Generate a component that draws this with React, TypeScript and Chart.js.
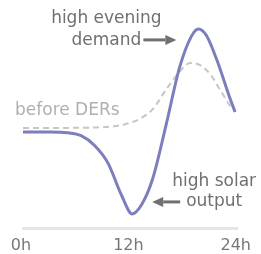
import React, { useEffect, useRef } from "react";
import { Chart, registerables } from "chart.js";

Chart.register(...registerables);

// Net load after DERs (solid purple)
const netLoadHours = [0, 3, 5, 6.5, 8, 9.5, 11, 12.2, 13.3, 14.5, 16, 17.5, 18.8, 19.6, 20.5, 21.7, 23, 23.7];
const netLoadValues = [43.6, 43.6, 43.3, 42, 37.5, 29.5, 15, 6.4, 10.9, 22.5, 47, 73, 87, 90.5, 87.5, 76, 60.5, 52.7];

// Load before DERs (dashed grey)
const beforeHours = [0, 4, 8, 10, 11.5, 13, 14.5, 16, 17.4, 18.7, 19.8, 21, 22, 23.2];
const beforeValues = [45.5, 45.5, 45.7, 46.2, 47.3, 49.5, 54, 63, 70.5, 75, 74, 69.5, 63, 55];

const xTickValues = [0, 12, 24];
const xTickLabels = ["0h", "12h", "24h"];

const peakLabel = ["high evening", "demand"];
const troughLabel = ["high solar", "output"];
const beforeLabel = "before DERs";

const FONT = "'DejaVu Sans', sans-serif";
const TEXT_COLOR = "#707070";

function drawArrow(ctx: CanvasRenderingContext2D, x0: number, x1: number, y: number) {
  const dir = Math.sign(x1 - x0);
  const headLen = 11;
  ctx.save();
  ctx.strokeStyle = TEXT_COLOR;
  ctx.fillStyle = TEXT_COLOR;
  ctx.lineWidth = 3;
  ctx.beginPath();
  ctx.moveTo(x0, y);
  ctx.lineTo(x1 - dir * headLen, y);
  ctx.stroke();
  ctx.beginPath();
  ctx.moveTo(x1, y);
  ctx.lineTo(x1 - dir * headLen, y - 5);
  ctx.lineTo(x1 - dir * headLen, y + 5);
  ctx.closePath();
  ctx.fill();
  ctx.restore();
}

const annotationPlugin = {
  id: "duckAnnotations",
  afterDatasetsDraw(chart: any) {
    const ctx: CanvasRenderingContext2D = chart.ctx;
    const xs = chart.scales.x;
    const ys = chart.scales.y;
    let pi = 0;
    let ti = 0;
    netLoadValues.forEach((v, i) => {
      if (v > netLoadValues[pi]) pi = i;
      if (v < netLoadValues[ti]) ti = i;
    });
    const px = xs.getPixelForValue(netLoadHours[pi]);
    const py = ys.getPixelForValue(netLoadValues[pi]);
    const tx = xs.getPixelForValue(netLoadHours[ti]);
    const ty = ys.getPixelForValue(netLoadValues[ti]);

    ctx.save();
    ctx.font = `17px ${FONT}`;
    ctx.fillStyle = TEXT_COLOR;
    ctx.textAlign = "center";
    ctx.textBaseline = "alphabetic";
    // peak annotation
    ctx.fillText(peakLabel[0], px - 92, py - 6);
    ctx.fillText(peakLabel[1], px - 92, py + 16);
    drawArrow(ctx, px - 55, px - 22, py + 11);
    // trough annotation
    ctx.fillText(troughLabel[0], tx + 82, ty - 28);
    ctx.fillText(troughLabel[1], tx + 82, ty - 8);
    drawArrow(ctx, tx + 48, tx + 20, ty - 12);
    // before DERs label
    const bx = xs.getPixelForValue(beforeHours[0]);
    const by = ys.getPixelForValue(beforeValues[0]);
    ctx.fillStyle = "#b0b0b0";
    ctx.textAlign = "left";
    ctx.fillText(beforeLabel, bx - 8, by - 13);
    ctx.restore();
  },
};

export default function App() {
  const canvasRef = useRef<HTMLCanvasElement | null>(null);

  useEffect(() => {
    if (!canvasRef.current) return;
    const chart = new Chart(canvasRef.current, {
      type: "line",
      data: {
        datasets: [
          {
            label: "after DERs",
            data: netLoadHours.map((h, i) => ({ x: h, y: netLoadValues[i] })),
            borderColor: "#7c7fbb",
            borderWidth: 3,
            pointRadius: 0,
            cubicInterpolationMode: "monotone",
            fill: false,
          },
          {
            label: "before DERs",
            data: beforeHours.map((h, i) => ({ x: h, y: beforeValues[i] })),
            borderColor: "#c6c6c6",
            borderWidth: 2,
            borderDash: [6, 4],
            pointRadius: 0,
            cubicInterpolationMode: "monotone",
            fill: false,
          },
        ],
      },
      options: {
        animation: false,
        responsive: false,
        events: [],
        layout: { padding: { left: 23, right: 21, top: 8, bottom: 0 } },
        plugins: {
          legend: { display: false },
          tooltip: { enabled: false },
        },
        scales: {
          x: {
            type: "linear",
            min: 0,
            max: 24,
            afterFit: (scale: any) => {
              scale.height = 26;
            },
            afterBuildTicks: (scale: any) => {
              scale.ticks = xTickValues.map((v) => ({ value: v }));
            },
            grid: { display: false, drawTicks: false },
            border: { display: true, color: "#e6e6e6", width: 3 },
            ticks: {
              padding: 8,
              labelOffset: -2,
              color: "#777777",
              font: { family: FONT, size: 16 },
              maxRotation: 0,
              callback: (v: any) => {
                const i = xTickValues.indexOf(Number(v));
                return i >= 0 ? xTickLabels[i] : "";
              },
            },
          },
          y: {
            display: false,
            min: 0,
            max: 100,
          },
        },
      },
      plugins: [annotationPlugin],
    });
    return () => chart.destroy();
  }, []);

  return (
    <div style={{ position: "fixed", left: 0, top: 0, width: 261, height: 254, background: "#fff" }}>
      <canvas ref={canvasRef} width={261} height={254} style={{ display: "block" }} />
    </div>
  );
}
